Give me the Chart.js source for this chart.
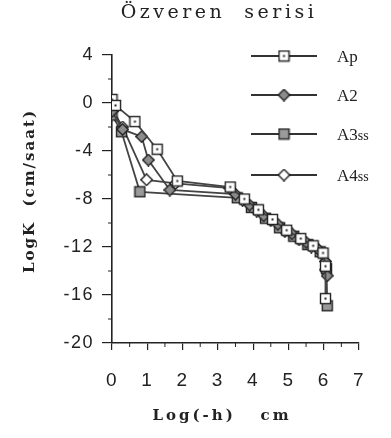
<!DOCTYPE html>
<html>
<head>
<meta charset="utf-8">
<script src="https://cdn.jsdelivr.net/npm/chart.js@4/dist/chart.umd.min.js"></script>
<style>
  body { margin: 0; background: #fff; }
  #c { display: block; }
</style>
</head>
<body>
<canvas id="c" width="391" height="438"></canvas>
<script>
// Log(-h) (x) and LogK (y) for each horizon
var apX = [0, 0.1, 0.65, 1.28, 1.85, 3.35, 3.75, 4.15, 4.55, 4.95, 5.35, 5.7, 5.98, 6.05, 6.05];
var apY = [0.3, -0.2, -1.55, -3.85, -6.5, -7.0, -8.0, -8.9, -9.7, -10.6, -11.3, -11.9, -12.5, -13.6, -16.3];

var a2X = [0, 0.3, 0.84, 1.03, 1.64, 3.5, 3.9, 4.3, 4.7, 5.1, 5.5, 5.85, 6.05, 6.1];
var a2Y = [-0.7, -2.2, -2.8, -4.75, -7.25, -7.6, -8.5, -9.4, -10.1, -10.9, -11.6, -12.2, -13.2, -14.4];

var a3X = [0, 0.27, 0.79, 3.55, 3.95, 4.35, 4.75, 5.15, 5.55, 5.9, 6.08, 6.1];
var a3Y = [-1.0, -2.4, -7.4, -7.9, -8.7, -9.6, -10.4, -11.1, -11.8, -12.4, -13.8, -16.9];

var a4X = [0, 0.3, 0.98, 1.8, 3.34, 3.7, 4.1, 4.5, 4.9, 5.3, 5.65, 5.95, 6.05];
var a4Y = [-0.5, -2.0, -6.4, -6.7, -7.1, -8.1, -9.0, -9.8, -10.7, -11.4, -12.0, -12.6, -13.9];

var seriesNames = ["Ap", "A2", "A3ss", "A4ss"];
var xTicks = [0, 1, 2, 3, 4, 5, 6, 7];
var yTicks = [4, 0, -4, -8, -12, -16, -20];

function toPoints(xs, ys) {
    var pts = [];
    for (var i = 0; i < xs.length; i++) pts.push({x: xs[i], y: ys[i]});
    return pts;
}

// small marker images
function makeMarker(kind) {
    var c = document.createElement('canvas');
    c.width = 13; c.height = 13;
    var g = c.getContext('2d');
    g.lineWidth = 1.4;
    g.strokeStyle = '#222';
    if (kind == 'sqDot' || kind == 'sqGray') {
        g.fillStyle = kind == 'sqDot' ? '#fff' : '#9a9a9a';
        g.fillRect(1.5, 1.5, 10, 10);
        g.strokeRect(1.5, 1.5, 10, 10);
        if (kind == 'sqDot') { g.fillStyle = '#222'; g.fillRect(5.5, 5.5, 2, 2); }
    } else {
        g.beginPath();
        g.moveTo(6.5, 0.8); g.lineTo(12.2, 6.5); g.lineTo(6.5, 12.2); g.lineTo(0.8, 6.5);
        g.closePath();
        g.fillStyle = kind == 'diaGray' ? '#8c8c8c' : '#fff';
        g.fill();
        g.stroke();
    }
    return c;
}
var markers = [makeMarker('sqDot'), makeMarker('diaGray'), makeMarker('sqGray'), makeMarker('diaOpen')];

var serif = "'Liberation Serif', 'DejaVu Serif', serif";
var wideSerif = "'DejaVu Serif', serif";

var textPlugin = {
    id: 'textPlugin',
    beforeDraw: function(chart) {
        // slightly wider tick numbers like the scanned figure
        chart.ctx.letterSpacing = '1.5px';
    },
    afterDraw: function(chart) {
        var ctx = chart.ctx;
        var xs = chart.scales.x, ys = chart.scales.y;
        ctx.save();
        ctx.strokeStyle = '#222';
        ctx.lineWidth = 1;
        // minor ticks
        for (var v = 0.5; v < 7; v += 1) {
            var px = xs.getPixelForValue(v);
            ctx.beginPath(); ctx.moveTo(px, ys.bottom); ctx.lineTo(px, ys.bottom + 4); ctx.stroke();
        }
        for (var w = 2; w > -20; w -= 4) {
            var py = ys.getPixelForValue(w);
            ctx.beginPath(); ctx.moveTo(xs.left, py); ctx.lineTo(xs.left - 4, py); ctx.stroke();
        }

        ctx.fillStyle = '#222';
        ctx.textBaseline = 'middle';
        ctx.textAlign = 'center';
        // title
        ctx.letterSpacing = '3.5px';
        ctx.font = '19px ' + wideSerif;
        ctx.fillText('Özveren  serisi', 219, 13);
        // x title
        ctx.letterSpacing = '3px';
        ctx.font = 'bold 15px ' + wideSerif;
        ctx.fillText('Log(-h)   cm', 222, 416);
        // y title
        ctx.save();
        ctx.translate(30, 191);
        ctx.rotate(-Math.PI / 2);
        ctx.letterSpacing = '2px';
        ctx.fillText('LogK  (cm/saat)', 0, 0);
        ctx.restore();

        // legend
        ctx.letterSpacing = '0px';
        var rows = [56, 95, 134, 175];
        ctx.lineWidth = 1.8;
        ctx.strokeStyle = '#333';
        ctx.textAlign = 'left';
        ctx.textBaseline = 'alphabetic';
        for (var i = 0; i < seriesNames.length; i++) {
            var y = rows[i];
            ctx.beginPath(); ctx.moveTo(251, y); ctx.lineTo(317, y); ctx.stroke();
            ctx.drawImage(markers[i], 284 - 6.5, y - 6.5);
            var name = seriesNames[i];
            ctx.font = '17px ' + serif;
            if (name.slice(-2) == 'ss') {
                var base = name.slice(0, -2);
                ctx.fillText(base, 337, y + 6);
                var bw = ctx.measureText(base).width;
                ctx.font = '14px ' + serif;
                ctx.fillText('ss', 337 + bw, y + 6);
            } else {
                ctx.fillText(name, 337, y + 6);
            }
        }
        ctx.restore();
    }
};

function ds(label, xs, ys, idx) {
    return {
        label: label,
        data: toPoints(xs, ys),
        showLine: true,
        borderColor: '#444',
        borderWidth: 1.8,
        pointStyle: markers[idx],
        pointRadius: 6,
        pointHoverRadius: 6
    };
}

var chart = new Chart(document.getElementById('c'), {
    type: 'scatter',
    data: {
        datasets: [
            ds(seriesNames[0], apX, apY, 0),
            ds(seriesNames[1], a2X, a2Y, 1),
            ds(seriesNames[2], a3X, a3Y, 2),
            ds(seriesNames[3], a4X, a4Y, 3)
        ]
    },
    options: {
        responsive: false,
        animation: false,
        layout: { padding: { top: 55, right: 32, left: 0, bottom: 0 } },
        plugins: { legend: { display: false }, tooltip: { enabled: false } },
        scales: {
            x: {
                type: 'linear',
                min: 0, max: 7,
                afterFit: function(s) { s.height = 95; },
                afterBuildTicks: function(s) { s.ticks = xTicks.map(function(v) { return {value: v}; }); },
                grid: { drawOnChartArea: false, tickLength: 7, color: '#222', lineWidth: 1.2 },
                border: { color: '#222', width: 1.6 },
                ticks: { color: '#222', padding: 19, maxRotation: 0, font: { family: "'Liberation Sans', Arial, sans-serif", size: 19 } }
            },
            y: {
                type: 'linear',
                min: -20, max: 4,
                afterFit: function(s) { s.width = 112; },
                afterBuildTicks: function(s) { s.ticks = yTicks.map(function(v) { return {value: v}; }); },
                grid: { drawOnChartArea: false, tickLength: 10, color: '#222', lineWidth: 1.2 },
                border: { color: '#222', width: 1.6 },
                ticks: { color: '#222', padding: 8, font: { family: "'Liberation Sans', Arial, sans-serif", size: 18 } }
            }
        }
    },
    plugins: [textPlugin]
});
</script>
</body>
</html>
